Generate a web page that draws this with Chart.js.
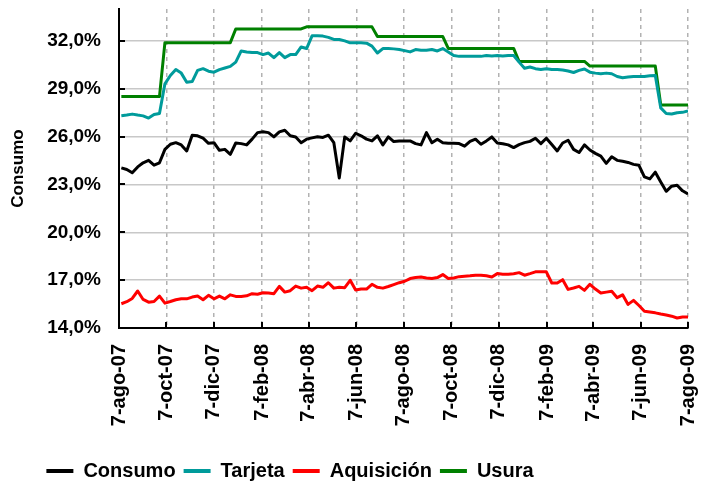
<!DOCTYPE html>
<html>
<head>
<meta charset="utf-8">
<script src="https://cdn.jsdelivr.net/npm/chart.js@4/dist/chart.umd.min.js"></script>
<style>
  html, body { margin: 0; padding: 0; background: #fff; }
  #wrap { width: 710px; height: 496px; }
</style>
</head>
<body>
<div id="wrap"><canvas id="chart"></canvas></div>
<script>
// Weekly rates (%), one value per Friday starting 10-ago-07
const firstWeek = '2007-08-10';

const consumo = [
  24.04, 23.94, 23.73, 24.10, 24.36, 24.51, 24.21, 24.36, 25.20, 25.52,
  25.62, 25.48, 25.10, 26.09, 26.05, 25.90, 25.58, 25.62, 25.14, 25.20,
  24.89, 25.60, 25.56, 25.48, 25.84, 26.25, 26.30, 26.25, 25.98, 26.30,
  26.40, 26.05, 25.98, 25.62, 25.84, 25.92, 25.99, 25.95, 26.09, 25.62,
  23.41, 25.98, 25.73, 26.21, 26.05, 25.84, 25.73, 26.05, 25.48, 25.98,
  25.69, 25.73, 25.73, 25.73, 25.56, 25.48, 26.25, 25.62, 25.84, 25.62,
  25.58, 25.58, 25.56, 25.40, 25.70, 25.84, 25.52, 25.73, 25.98, 25.60,
  25.55, 25.48, 25.31, 25.50, 25.62, 25.70, 25.90, 25.56, 25.90, 25.50,
  25.10, 25.60, 25.77, 25.20, 25.00, 25.48, 25.16, 24.95, 24.78, 24.32,
  24.74, 24.51, 24.45, 24.38, 24.26, 24.20, 23.47, 23.35, 23.77, 23.15,
  22.57, 22.89, 22.95, 22.60, 22.40
];

const tarjeta = [
  27.31, 27.35, 27.41, 27.35, 27.30, 27.16, 27.38, 27.45, 29.31, 29.83,
  30.21, 29.98, 29.41, 29.45, 30.15, 30.26, 30.10, 30.04, 30.20, 30.30,
  30.40, 30.67, 31.37, 31.31, 31.27, 31.27, 31.14, 31.24, 30.95, 31.27,
  30.95, 31.14, 31.14, 31.62, 31.52, 32.32, 32.32, 32.30, 32.22, 32.09,
  32.09, 32.00, 31.88, 31.88, 31.88, 31.86, 31.67, 31.24, 31.52, 31.52,
  31.50, 31.46, 31.39, 31.31, 31.46, 31.41, 31.41, 31.46, 31.37, 31.52,
  31.31, 31.08, 31.03, 31.03, 31.03, 31.03, 31.03, 31.08, 31.05, 31.08,
  31.05, 31.08, 31.08, 30.67, 30.28, 30.36, 30.26, 30.21, 30.26, 30.21,
  30.21, 30.17, 30.11, 30.02, 30.15, 30.24, 30.04, 29.98, 29.94, 29.98,
  29.94, 29.77, 29.69, 29.73, 29.77, 29.77, 29.77, 29.81, 29.83, 27.80,
  27.45, 27.42, 27.50, 27.52, 27.60
];

const aquisicion = [
  15.52, 15.65, 15.85, 16.32, 15.79, 15.62, 15.66, 16.00, 15.56, 15.66,
  15.77, 15.83, 15.83, 15.94, 16.00, 15.77, 16.05, 15.83, 16.00, 15.83,
  16.08, 15.98, 15.98, 16.02, 16.15, 16.12, 16.21, 16.20, 16.15, 16.61,
  16.25, 16.34, 16.63, 16.50, 16.55, 16.34, 16.63, 16.55, 16.84, 16.50,
  16.55, 16.53, 16.99, 16.38, 16.44, 16.44, 16.74, 16.55, 16.50, 16.60,
  16.72, 16.84, 16.93, 17.10, 17.16, 17.20, 17.14, 17.10, 17.16, 17.35,
  17.10, 17.14, 17.22, 17.25, 17.27, 17.31, 17.31, 17.27, 17.20, 17.41,
  17.37, 17.37, 17.40, 17.47, 17.31, 17.41, 17.52, 17.52, 17.52, 16.82,
  16.82, 17.03, 16.42, 16.51, 16.61, 16.36, 16.74, 16.44, 16.19, 16.25,
  16.30, 15.90, 16.08, 15.48, 15.73, 15.41, 15.05, 15.00, 14.95, 14.88,
  14.82, 14.74, 14.63, 14.69, 14.69
];

const usura = [
  28.51, 28.51, 28.51, 28.51, 28.51, 28.51, 28.51, 28.51,
  31.89, 31.89, 31.89, 31.89, 31.89, 31.89, 31.89, 31.89, 31.89, 31.89, 31.89, 31.89, 31.89,
  32.75, 32.75, 32.75, 32.75, 32.75, 32.75, 32.75, 32.75, 32.75, 32.75, 32.75, 32.75, 32.75,
  32.88, 32.88, 32.88, 32.88, 32.88, 32.88, 32.88, 32.88, 32.88, 32.88, 32.88, 32.88, 32.88,
  32.27, 32.27, 32.27, 32.27, 32.27, 32.27, 32.27, 32.27, 32.27, 32.27, 32.27, 32.27, 32.27,
  31.53, 31.53, 31.53, 31.53, 31.53, 31.53, 31.53, 31.53, 31.53, 31.53, 31.53, 31.53, 31.53,
  30.71, 30.71, 30.71, 30.71, 30.71, 30.71, 30.71, 30.71, 30.71, 30.71, 30.71, 30.71, 30.71,
  30.42, 30.42, 30.42, 30.42, 30.42, 30.42, 30.42, 30.42, 30.42, 30.42, 30.42, 30.42, 30.42,
  27.98, 27.98, 27.98, 27.98, 27.98, 27.98
];

const seriesNames = ['Consumo', 'Tarjeta', 'Aquisición', 'Usura'];
const seriesColors = ['#000000', '#009b9b', '#ff0000', '#008000'];

// Date axis
const axisStart = '2007-08-07';
const tickDates = [
  '2007-08-07', '2007-10-07', '2007-12-07', '2008-02-07', '2008-04-07', '2008-06-07',
  '2008-08-07', '2008-10-07', '2008-12-07', '2009-02-07', '2009-04-07', '2009-06-07', '2009-08-07'
];
const tickLabels = [
  '7-ago-07', '7-oct-07', '7-dic-07', '7-feb-08', '7-abr-08', '7-jun-08',
  '7-ago-08', '7-oct-08', '7-dic-08', '7-feb-09', '7-abr-09', '7-jun-09', '7-ago-09'
];

// Value axis
const yMajor = [14, 17, 20, 23, 26, 29, 32];
const yMinor = [15.5, 18.5, 21.5, 24.5, 27.5, 30.5, 33.5];
const yMin = 14;
const yMax = 34;

const DAY = 86400000;
const dayOf = s => Math.round((Date.parse(s) - Date.parse(axisStart)) / DAY);
const tickDays = tickDates.map(dayOf);
const startDay = dayOf(firstWeek);
const yGrid = [...yMajor, ...yMinor].sort((a, b) => a - b);

const toPoints = arr => arr.map((v, i) => ({ x: startDay + 7 * i, y: v }));

const FONT = "'Liberation Sans', Arial, sans-serif";

// small inward tick marks on both axes
const insideTicks = {
  id: 'insideTicks',
  afterDatasetsDraw(chart) {
    const { ctx, chartArea: a, scales: { x, y } } = chart;
    ctx.save();
    ctx.strokeStyle = '#000';
    ctx.lineWidth = 2;
    ctx.beginPath();
    yMajor.forEach(v => {
      const py = Math.round(y.getPixelForValue(v));
      ctx.moveTo(a.left, py);
      ctx.lineTo(a.left + 6, py);
    });
    tickDays.forEach(d => {
      const px = Math.round(x.getPixelForValue(d));
      ctx.moveTo(px, a.bottom);
      ctx.lineTo(px, a.bottom - 6);
    });
    ctx.stroke();
    ctx.restore();
  }
};

// legend sits left of centre, under the left part of the plot
const legendShift = {
  id: 'legendShift',
  afterLayout(chart) {
    const lg = chart.legend;
    const dx = 290 - (lg.left + lg.right) / 2;
    lg.left += dx;
    lg.right += dx;
  }
};

const datasets = [consumo, tarjeta, aquisicion, usura].map((arr, i) => ({
  label: seriesNames[i],
  data: toPoints(arr),
  borderColor: seriesColors[i],
  backgroundColor: seriesColors[i],
  borderWidth: 3,
  pointRadius: 0,
  tension: 0,
  fill: false,
  borderJoinStyle: 'round'
}));

new Chart(document.getElementById('chart'), {
  type: 'line',
  data: { datasets },
  options: {
    responsive: true,
    maintainAspectRatio: false,
    animation: false,
    devicePixelRatio: 1,
    layout: { padding: { top: 9, right: 22, bottom: 5, left: 0 } },
    scales: {
      x: {
        type: 'linear',
        min: 0,
        max: tickDays[tickDays.length - 1],
        afterBuildTicks: s => { s.ticks = tickDays.map(v => ({ value: v })); },
        afterFit: s => {
          s.height = 125;
          s.paddingLeft = 0;
          s.paddingRight = 0;
        },
        ticks: {
          autoSkip: false,
          minRotation: 90,
          maxRotation: 90,
          padding: 16,
          color: '#000',
          font: { family: FONT, size: 20, weight: 'bold' },
          callback: v => tickLabels[tickDays.indexOf(v)] ?? ''
        },
        grid: {
          drawTicks: false,
          lineWidth: 1.5,
          color: c => (c.tick && c.tick.value > 0 ? '#b2b2b2' : 'rgba(0,0,0,0)')
        },
        border: { color: '#000', width: 2, dash: c => (c.tick ? [4, 4] : []) }
      },
      y: {
        min: yMin,
        max: yMax,
        afterBuildTicks: s => { s.ticks = yGrid.map(v => ({ value: v })); },
        afterFit: s => {
          s.width = 119;
          s.paddingTop = 0;
          s.paddingBottom = 0;
        },
        ticks: {
          padding: 18,
          color: '#000',
          font: { family: FONT, size: 19, weight: 'bold' },
          callback: v => (yMajor.includes(v) ? v.toFixed(1).replace('.', ',') + '%' : '')
        },
        grid: {
          drawTicks: false,
          lineWidth: 1.5,
          color: c => (c.tick && yMajor.includes(c.tick.value) ? '#c8c8c8' : '#b2b2b2')
        },
        border: {
          color: '#000',
          width: 2,
          dash: c => (c.tick && !yMajor.includes(c.tick.value) ? [4, 4] : [])
        },
        title: {
          display: true,
          text: 'Consumo',
          color: '#000',
          font: { family: FONT, size: 17, weight: 'bold' },
          padding: { top: 8, bottom: 0 }
        }
      }
    },
    plugins: {
      legend: {
        position: 'bottom',
        labels: {
          boxWidth: 27,
          boxHeight: 4,
          padding: 8,
          color: '#000',
          font: { family: FONT, size: 20, weight: 'bold' },
          generateLabels: chart => chart.data.datasets.map((ds, i) => ({
            text: ds.label,
            fillStyle: ds.borderColor,
            strokeStyle: ds.borderColor,
            lineWidth: 0,
            datasetIndex: i,
            hidden: false
          }))
        }
      },
      tooltip: { enabled: false }
    }
  },
  plugins: [insideTicks, legendShift]
});
</script>
</body>
</html>
